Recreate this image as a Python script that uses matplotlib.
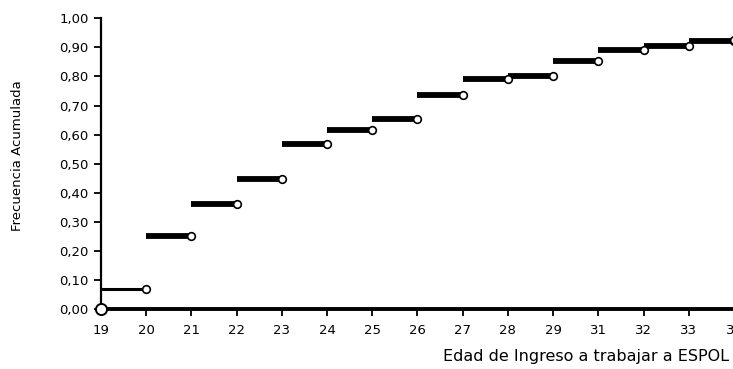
import matplotlib
matplotlib.use("Agg")
import matplotlib.pyplot as plt
import numpy as np

edades = ["19", "20", "21", "22", "23", "24", "25", "26", "27", "28", "29", "31", "32", "33", "34"]
frec_acum = [0.069, 0.252, 0.362, 0.447, 0.567, 0.615, 0.655, 0.735, 0.790, 0.802, 0.853, 0.892, 0.905, 0.922, 0.930]
yticks = [0.0, 0.1, 0.2, 0.3, 0.4, 0.5, 0.6, 0.7, 0.8, 0.9, 1.0]

W, H = 733, 369
fig = plt.figure(figsize=(W / 100, H / 100), dpi=100)
plt.rcParams['font.family'] = ['DejaVu Sans']

x0_px, x14_px = 101, 734
y0_px, y1_px = 309, 18.3
xmax = 14.4
ax_w = (x14_px - x0_px) / 14 * xmax / W
ax = fig.add_axes([x0_px / W, (H - y0_px) / H, ax_w, (y0_px - y1_px) / H])

n = len(edades)
pos = np.arange(n)
for i in range(n):
    lw = 2.2 if i == 0 else 4.2
    xe = i + 1 if i < n - 1 else xmax
    ax.plot([i, xe], [frec_acum[i], frec_acum[i]], color="black", lw=lw,
            solid_capstyle="butt", clip_on=False, zorder=2)
    if i < n - 1:
        ax.plot([i + 1], [frec_acum[i]], marker="o", ms=5.5, mfc="white",
                mec="black", mew=1.2, clip_on=False, zorder=3)
# last marker at 34
ax.plot([n - 1], [frec_acum[-1] - 0.006], marker="o", ms=5.5, mfc="white",
        mec="black", mew=1.2, clip_on=False, zorder=3)
# open circle at origin
ax.plot([0], [0], marker="o", ms=8, mfc="white", mec="black", mew=1.4,
        clip_on=False, zorder=4)

ax.set_xlim(0, xmax)
ax.set_ylim(0, 1.0)
ax.set_xticks(pos)
ax.set_xticklabels(edades)
ax.set_yticks(yticks)
ax.set_yticklabels([f"{v:.2f}".replace(".", ",") for v in yticks])
for s in ["top", "right"]:
    ax.spines[s].set_visible(False)
ax.spines["left"].set_linewidth(1.6)
ax.spines["bottom"].set_linewidth(2.8)
ax.tick_params(axis="both", direction="out", length=5, width=1.3, labelsize=9.5,
               colors="black", pad=4)
ax.tick_params(axis="x", pad=6)

fig.text(18 / W, 1 - 156 / H, "Frecuencia Acumulada", rotation=90,
         ha="center", va="center", fontsize=9.5)
fig.text(729 / W, 1 - 356 / H, "Edad de Ingreso a trabajar a ESPOL",
         ha="right", va="center", fontsize=11.5)

fig.savefig("out.png", dpi=100)
